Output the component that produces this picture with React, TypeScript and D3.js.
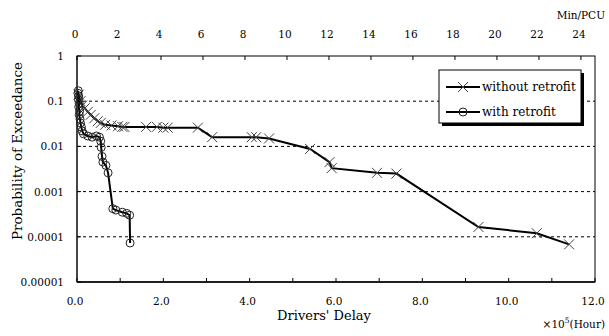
import React, { useEffect, useRef } from 'react';
import * as d3 from 'd3';

// drivers' delay (x10^5 hour) vs probability of exceedance
const withoutDelay = [0.04, 0.08, 0.12, 0.18, 0.25, 0.32, 0.4, 0.48, 0.55, 0.65, 0.8, 0.95, 1.05, 1.1, 1.6, 1.85, 2.0, 2.1, 2.8, 3.13, 4.05, 4.15, 4.45, 5.4, 5.85, 5.9, 6.95, 7.4, 9.3, 10.65, 11.4];
const withoutProb = [0.14, 0.1, 0.08, 0.07, 0.058, 0.05, 0.042, 0.036, 0.033, 0.03, 0.029, 0.028, 0.027, 0.027, 0.027, 0.027, 0.026, 0.026, 0.026, 0.016, 0.016, 0.016, 0.015, 0.0088, 0.0045, 0.0033, 0.0026, 0.0025, 0.000165, 0.00012, 0.000068];

const withDelay = [0.03, 0.02, 0.04, 0.03, 0.05, 0.04, 0.06, 0.05, 0.07, 0.08, 0.1, 0.12, 0.15, 0.25, 0.35, 0.45, 0.52, 0.55, 0.56, 0.58, 0.6, 0.67, 0.72, 0.83, 0.9, 1.05, 1.15, 1.22, 1.23];
const withProb = [0.17, 0.15, 0.13, 0.11, 0.09, 0.075, 0.06, 0.05, 0.04, 0.033, 0.027, 0.022, 0.019, 0.017, 0.016, 0.017, 0.016, 0.013, 0.0095, 0.006, 0.0045, 0.0038, 0.0026, 0.00042, 0.00039, 0.00035, 0.00033, 0.0003, 0.000073];

const yTicks = [1, 0.1, 0.01, 0.001, 0.0001, 0.00001];
const yTickLabels = ['1', '0.1', '0.01', '0.001', '0.0001', '0.00001'];
const gridVals = [0.1, 0.01, 0.001, 0.0001];
const bottomTicks = [0, 1, 2, 3, 4, 5, 6, 7, 8, 9, 10, 11, 12];
const bottomLabels = [0, 2, 4, 6, 8, 10, 12];
const topTicks = [0, 2, 4, 6, 8, 10, 12, 14, 16, 18, 20, 22, 24];

const seriesNames = ['without retrofit', 'with retrofit'];

const W = 609;
const H = 336;
const margin = { left: 77, right: 14, top: 56, bottom: 54 };
const FONT = "'DejaVu Serif', 'Liberation Serif', serif";

export default function App() {
  const ref = useRef<SVGSVGElement>(null);

  useEffect(() => {
    const svg = d3.select(ref.current);
    svg.selectAll('*').remove();

    const x = d3.scaleLinear().domain([0, 12]).range([margin.left, W - margin.right]);
    const xTop = d3.scaleLinear().domain([0, 24.67]).range([margin.left, W - margin.right]);
    const y = d3.scaleLog().domain([0.00001, 1]).range([H - margin.bottom, margin.top]);

    const g = svg.append('g').style('font-family', FONT).attr('fill', '#000');

    // grid lines
    g.selectAll('.grid')
      .data(gridVals)
      .enter()
      .append('line')
      .attr('x1', margin.left)
      .attr('x2', W - margin.right)
      .attr('y1', d => y(d))
      .attr('y2', d => y(d))
      .attr('stroke', '#000')
      .attr('stroke-width', 1)
      .attr('stroke-dasharray', '3,3');

    // frame
    g.append('rect')
      .attr('x', margin.left)
      .attr('y', margin.top)
      .attr('width', W - margin.right - margin.left)
      .attr('height', H - margin.bottom - margin.top)
      .attr('fill', 'none')
      .attr('stroke', '#000')
      .attr('stroke-width', 1);
    // heavier left & bottom axis
    g.append('line')
      .attr('x1', margin.left).attr('x2', margin.left)
      .attr('y1', margin.top).attr('y2', H - margin.bottom)
      .attr('stroke', '#333').attr('stroke-width', 1.5);
    g.append('line')
      .attr('x1', margin.left).attr('x2', W - margin.right)
      .attr('y1', H - margin.bottom).attr('y2', H - margin.bottom)
      .attr('stroke', '#000').attr('stroke-width', 1.5);

    // bottom ticks (inside)
    g.selectAll('.bt')
      .data(bottomTicks)
      .enter()
      .append('line')
      .attr('x1', d => x(d)).attr('x2', d => x(d))
      .attr('y1', H - margin.bottom).attr('y2', H - margin.bottom - 4)
      .attr('stroke', '#000');
    g.selectAll('.bl')
      .data(bottomLabels)
      .enter()
      .append('text')
      .attr('x', d => x(d) - 2)
      .attr('y', 305)
      .attr('text-anchor', 'middle')
      .attr('font-size', 10.5)
      .text(d => d.toFixed(1));

    // top ticks (inside)
    g.selectAll('.tt')
      .data(topTicks)
      .enter()
      .append('line')
      .attr('x1', d => xTop(d)).attr('x2', d => xTop(d))
      .attr('y1', margin.top).attr('y2', margin.top + 4)
      .attr('stroke', '#000');
    g.selectAll('.tl')
      .data(topTicks)
      .enter()
      .append('text')
      .attr('x', d => xTop(d) - 2)
      .attr('y', 38)
      .attr('text-anchor', 'middle')
      .attr('font-size', 10.5)
      .text(d => String(d));

    // y ticks
    g.selectAll('.yt')
      .data(yTicks)
      .enter()
      .append('line')
      .attr('x1', margin.left).attr('x2', margin.left + 4)
      .attr('y1', d => y(d)).attr('y2', d => y(d))
      .attr('stroke', '#000');
    g.selectAll('.yl')
      .data(yTicks)
      .enter()
      .append('text')
      .attr('x', 64)
      .attr('y', d => y(d) + 4)
      .attr('text-anchor', 'end')
      .attr('font-size', 10.5)
      .text((d, i) => yTickLabels[i]);

    // axis titles
    g.append('text')
      .attr('x', 324).attr('y', 320)
      .attr('text-anchor', 'middle')
      .attr('font-size', 13)
      .text("Drivers' Delay");
    const unit = g.append('text')
      .attr('x', 605).attr('y', 328)
      .attr('text-anchor', 'end')
      .attr('font-size', 10.5);
    unit.append('tspan').text('\u00d710');
    unit.append('tspan').attr('dy', -5).attr('font-size', 7.5).text('5');
    unit.append('tspan').attr('dy', 5).text('(Hour)');
    g.append('text')
      .attr('x', 605).attr('y', 19)
      .attr('text-anchor', 'end')
      .attr('font-size', 10.5)
      .text('Min/PCU');
    g.append('text')
      .attr('transform', `translate(22,151) rotate(-90)`)
      .attr('text-anchor', 'middle')
      .attr('font-size', 13)
      .attr('textLength', 178)
      .attr('lengthAdjust', 'spacingAndGlyphs')
      .text('Probability of Exceedance');

    const line = d3.line<[number, number]>()
      .x(d => x(d[0]))
      .y(d => y(d[1]));

    const without: [number, number][] = withoutDelay.map((d, i) => [d, withoutProb[i]]);
    const withR: [number, number][] = withDelay.map((d, i) => [d, withProb[i]]);

    const plot = g.append('g');
    const drawCross = (sel: any, cx: number, cy: number, s: number) => {
      sel.append('path')
        .attr('d', `M${cx - s},${cy - s}L${cx + s},${cy + s}M${cx - s},${cy + s}L${cx + s},${cy - s}`)
        .attr('stroke', '#444')
        .attr('stroke-width', 1)
        .attr('fill', 'none');
    };

    plot.append('path')
      .attr('d', line(without))
      .attr('fill', 'none')
      .attr('stroke', '#000')
      .attr('stroke-width', 2);
    without.forEach(d => drawCross(plot, x(d[0]), y(d[1]), 5));

    plot.append('path')
      .attr('d', line(withR))
      .attr('fill', 'none')
      .attr('stroke', '#000')
      .attr('stroke-width', 2);
    plot.selectAll('.c')
      .data(withR)
      .enter()
      .append('circle')
      .attr('cx', d => x(d[0]))
      .attr('cy', d => y(d[1]))
      .attr('r', 4)
      .attr('fill', 'none')
      .attr('stroke', '#222')
      .attr('stroke-width', 1);

    // legend
    const lx = 439, ly = 70, lw = 142, lh = 53;
    const leg = g.append('g');
    leg.append('rect')
      .attr('x', lx + 3).attr('y', ly + 3).attr('width', lw).attr('height', lh)
      .attr('fill', '#000');
    leg.append('rect')
      .attr('x', lx).attr('y', ly).attr('width', lw).attr('height', lh)
      .attr('fill', '#fff').attr('stroke', '#000').attr('stroke-width', 1);
    seriesNames.forEach((name, i) => {
      const yy = ly + 17 + i * 25;
      leg.append('line')
        .attr('x1', lx + 7).attr('x2', lx + 41)
        .attr('y1', yy).attr('y2', yy)
        .attr('stroke', '#000').attr('stroke-width', 2);
      if (i === 0) drawCross(leg, lx + 24, yy, 5);
      else
        leg.append('circle')
          .attr('cx', lx + 24).attr('cy', yy).attr('r', 4)
          .attr('fill', 'none').attr('stroke', '#222');
      leg.append('text')
        .attr('x', lx + 43).attr('y', yy + 4)
        .attr('font-size', 12)
        .text(name);
    });
  }, []);

  return (
    <svg
      ref={ref}
      width={W}
      height={H}
      style={{ position: 'absolute', left: 0, top: 0, background: '#fff' }}
    />
  );
}
